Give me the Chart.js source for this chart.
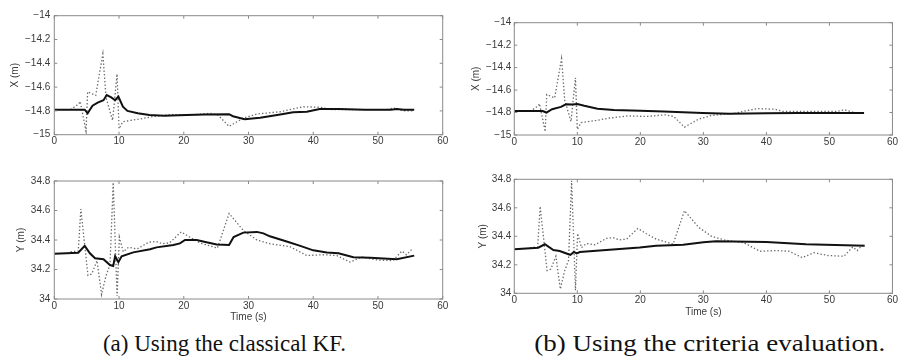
<!DOCTYPE html>
<html>
<head>
<meta charset="utf-8">
<script src="https://cdn.jsdelivr.net/npm/chart.js@4.4.1/dist/chart.umd.min.js"></script>
<style>
  html, body { margin: 0; padding: 0; background: #fff; }
  body { width: 899px; height: 362px; position: relative; overflow: hidden; }
  canvas { position: absolute; }
  .cap { position: absolute; font-family: "Liberation Serif", "DejaVu Serif", serif; font-size: 23px; color: #111;
         white-space: nowrap; transform-origin: center top; }
</style>
</head>
<body>
<canvas id="aX"></canvas>
<canvas id="bX"></canvas>
<canvas id="aY"></canvas>
<canvas id="bY"></canvas>
<div class="cap" id="capA">(a) Using the classical KF.</div>
<div class="cap" id="capB">(b) Using the criteria evaluation.</div>
<script>
// ---- tick labels / axis ranges ----
const timeTicks = [0, 10, 20, 30, 40, 50, 60];
const xPosTicks = [-15, -14.8, -14.6, -14.4, -14.2, -14];
const yPosTicks = [34, 34.2, 34.4, 34.6, 34.8];

// ---- measured (dotted) X position, shared by both panels ----
const measXTime = [2.5, 3.8, 4.0, 4.9, 5.15, 6.4, 7.5, 8.0, 9.0, 9.7, 10.0, 10.6, 13, 15, 18, 21, 24, 25.3, 27.0, 29.2, 31.3, 34.9, 38.5, 41.3, 42.6, 47, 51.3, 52.4, 53.9, 55.6];
const measX     = [-14.79, -14.74, -14.72, -14.97, -14.64, -14.67, -14.32, -14.69, -14.88, -14.49, -14.95, -14.89, -14.87, -14.85, -14.83, -14.835, -14.82, -14.835, -14.93, -14.86, -14.826, -14.807, -14.765, -14.77, -14.79, -14.79, -14.79, -14.775, -14.80, -14.80];

// ---- classical KF X estimate ----
const kfXTime = [0, 4.7, 5.15, 5.9, 6.7, 7.6, 8.1, 8.8, 9.4, 9.9, 10.6, 11.3, 12.9, 14.7, 17, 20.4, 23.2, 27.0, 27.6, 29.4, 31.8, 34.9, 36.9, 39, 41, 44, 48, 52, 52.9, 54, 55.6];
const kfX     = [-14.79, -14.79, -14.82, -14.756, -14.73, -14.71, -14.667, -14.686, -14.71, -14.68, -14.765, -14.80, -14.82, -14.835, -14.84, -14.835, -14.83, -14.828, -14.845, -14.87, -14.857, -14.83, -14.812, -14.807, -14.785, -14.785, -14.79, -14.79, -14.785, -14.79, -14.79];

// ---- criteria-evaluation X estimate ----
const critXTime = [0, 4.5, 5.1, 6.0, 7.4, 8.2, 9.2, 10.0, 11.1, 13.2, 15.8, 20.0, 23.7, 29.9, 34.1, 40, 45, 50, 55.5];
const critX     = [-14.786, -14.786, -14.80, -14.77, -14.75, -14.727, -14.728, -14.724, -14.74, -14.766, -14.777, -14.785, -14.79, -14.805, -14.81, -14.807, -14.805, -14.805, -14.805];

// ---- measured (dotted) Y position, shared by both panels ----
const measYTime = [2.5, 3.7, 4.1, 5.2, 5.8, 6.6, 7.3, 8.0, 8.6, 9.1, 9.7, 10.05, 10.65, 11.45, 12.8, 14.6, 15.7, 16.7, 17.8, 19.6, 20.9, 22.5, 25.2, 27.0, 29.2, 31.3, 33.3, 36.4, 39.0, 41.6, 43.6, 45.7, 47.5, 49.8, 52.3, 53.7, 54.4, 55.3];
const measY     = [34.32, 34.325, 34.61, 34.16, 34.17, 34.26, 34.03, 34.16, 34.23, 34.79, 34.02, 34.42, 34.32, 34.35, 34.34, 34.385, 34.39, 34.375, 34.38, 34.455, 34.42, 34.38, 34.345, 34.58, 34.465, 34.40, 34.375, 34.355, 34.295, 34.30, 34.295, 34.25, 34.285, 34.265, 34.26, 34.325, 34.30, 34.34];

// ---- classical KF Y estimate ----
const kfYTime = [0, 3.7, 4.7, 5.5, 6.3, 7.6, 8.6, 9.1, 9.4, 9.9, 10.4, 12.2, 14.8, 15.8, 18.4, 19.4, 20.2, 22, 23.5, 25.1, 27.0, 27.7, 29.2, 31.3, 32.3, 33.3, 35.9, 38, 40, 42.1, 43.9, 46.2, 48.8, 52.9, 55.6];
const kfY     = [34.307, 34.314, 34.36, 34.31, 34.276, 34.27, 34.23, 34.224, 34.29, 34.25, 34.29, 34.316, 34.337, 34.35, 34.366, 34.377, 34.40, 34.40, 34.385, 34.37, 34.366, 34.42, 34.45, 34.455, 34.445, 34.425, 34.39, 34.36, 34.33, 34.315, 34.31, 34.283, 34.28, 34.27, 34.294];

// ---- criteria-evaluation Y estimate ----
const critYTime = [0, 3.8, 4.85, 6.2, 7.2, 8.5, 8.9, 9.45, 9.9, 10.4, 14.6, 19.9, 22.5, 26.8, 30.0, 32, 40, 46.3, 55.6];
const critY     = [34.309, 34.32, 34.344, 34.304, 34.297, 34.276, 34.269, 34.29, 34.28, 34.29, 34.304, 34.322, 34.334, 34.34, 34.358, 34.365, 34.36, 34.345, 34.334];

// ---- helpers ----
function pairs(ts, vs) { return ts.map((t, i) => ({ x: t, y: vs[i] })); }
const FRAME = '#8a8a8a';
const LABEL = '#3a3a3a';
const tickFont = { family: '"Liberation Sans Narrow", "Liberation Sans", Arial, sans-serif', size: 10 };
const titleFont = { family: '"Liberation Sans", Arial, sans-serif', size: 10 };
const LH = 12;

const framePlugin = {
  id: 'frame',
  afterDatasetsDraw(chart) {
    const { ctx, chartArea: a, scales } = chart;
    ctx.save();
    ctx.strokeStyle = FRAME;
    ctx.lineWidth = 1;
    ctx.strokeRect(a.left, a.top, a.right - a.left, a.bottom - a.top);
    const L = 3;
    ctx.beginPath();
    scales.x.ticks.forEach(t => {
      const px = scales.x.getPixelForValue(t.value);
      ctx.moveTo(px, a.bottom); ctx.lineTo(px, a.bottom - L);
      ctx.moveTo(px, a.top); ctx.lineTo(px, a.top + L);
    });
    scales.y.ticks.forEach(t => {
      const py = scales.y.getPixelForValue(t.value);
      ctx.moveTo(a.left, py); ctx.lineTo(a.left + L, py);
      ctx.moveTo(a.right, py); ctx.lineTo(a.right - L, py);
    });
    ctx.stroke();
    ctx.restore();
  }
};

function fmt(v) {
  const s = String(Math.round(v * 10) / 10);
  return s.replace('-', '\u2212');
}

function makePanel(id, box, area, cfg) {
  const cv = document.getElementById(id);
  cv.width = box.w; cv.height = box.h;
  cv.style.left = box.left + 'px'; cv.style.top = box.top + 'px';
  cv.style.width = box.w + 'px'; cv.style.height = box.h + 'px';
  const padLeft = cfg.yTitleX - LH / 2 - box.left;
  const padTop = area.t - box.top;
  const padRight = box.left + box.w - area.r;
  const padBottom = cfg.xTitleY ? (box.top + box.h) - (cfg.xTitleY + LH / 2) : 0;
  const yWidth = area.l - box.left - padLeft;
  const xHeight = box.top + box.h - padBottom - area.b;
  new Chart(cv, {
    type: 'line',
    data: {
      datasets: [
        { data: pairs(cfg.estT, cfg.est), borderColor: '#111', borderWidth: 2, pointRadius: 0, tension: 0 },
        { data: pairs(cfg.measT, cfg.meas), borderColor: '#6a6a6a', borderWidth: 1.3, borderDash: [1.4, 2.1], pointRadius: 0, tension: 0 }
      ]
    },
    options: {
      responsive: false,
      animation: false,
      events: [],
      layout: { autoPadding: false, padding: { left: padLeft, top: padTop, right: padRight, bottom: padBottom } },
      plugins: { legend: { display: false }, tooltip: { enabled: false } },
      scales: {
        x: {
          type: 'linear', min: 0, max: 60,
          afterBuildTicks: s => { s.ticks = timeTicks.map(v => ({ value: v })); },
          afterFit: s => { s.height = xHeight; },
          grid: { display: false, drawTicks: false },
          border: { display: false },
          ticks: { font: tickFont, color: LABEL, padding: 1, maxRotation: 0, autoSkip: false, callback: v => fmt(v) },
          title: { display: !!cfg.xTitleY, text: 'Time (s)', font: tickFont, color: LABEL, padding: 0 }
        },
        y: {
          type: 'linear', min: cfg.yTicks[0], max: cfg.yTicks[cfg.yTicks.length - 1],
          afterBuildTicks: s => { s.ticks = cfg.yTicks.map(v => ({ value: v })); },
          afterFit: s => { s.width = yWidth; },
          grid: { display: false, drawTicks: false },
          border: { display: false },
          ticks: { font: tickFont, color: LABEL, padding: cfg.yPad, autoSkip: false, callback: v => fmt(v) },
          title: { display: true, text: cfg.yTitle, font: titleFont, color: LABEL, padding: 0 }
        }
      }
    },
    plugins: [framePlugin]
  });
}

makePanel('aX', { left: 0, top: 0, w: 455, h: 152 }, { l: 54.3, t: 15.7, r: 442.7, b: 134.7 },
  { yTitleX: 15, yTitle: 'X (m)', yTicks: xPosTicks, yPad: 4, estT: kfXTime, est: kfX, measT: measXTime, meas: measX });
makePanel('bX', { left: 455, top: 0, w: 444, h: 152 }, { l: 514.3, t: 22.7, r: 893.3, b: 135 },
  { yTitleX: 476.5, yTitle: 'X (m)', yTicks: xPosTicks, yPad: 3, estT: critXTime, est: critX, measT: measXTime, meas: measX });
makePanel('aY', { left: 0, top: 160, w: 455, h: 163 }, { l: 54.3, t: 181, r: 442.7, b: 299 },
  { yTitleX: 21, yTitle: 'Y (m)', xTitleY: 317, yTicks: yPosTicks, yPad: 4, estT: kfYTime, est: kfY, measT: measYTime, meas: measY });
makePanel('bY', { left: 455, top: 160, w: 444, h: 158 }, { l: 514.3, t: 179.3, r: 893.3, b: 293.3 },
  { yTitleX: 483, yTitle: 'Y (m)', xTitleY: 312, yTicks: yPosTicks, yPad: 3, estT: critYTime, est: critY, measT: measYTime, meas: measY });

// captions
function placeCap(id, cx, top, targetW) {
  const el = document.getElementById(id);
  el.style.top = top + 'px';
  const w = el.getBoundingClientRect().width;
  const sx = targetW / w;
  el.style.left = (cx - w / 2) + 'px';
  el.style.transform = 'scaleX(' + sx + ')';
}
placeCap('capA', 224.5, 331, 243);
placeCap('capB', 709.5, 331, 351);
</script>
</body>
</html>
